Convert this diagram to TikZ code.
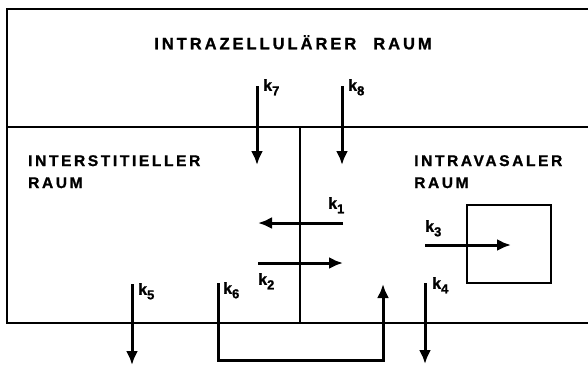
\documentclass[tikz,border=0pt]{standalone}
\usepackage{fontspec}
\setsansfont{Liberation Sans}[BoldFeatures={FakeBold=1.2}]
\newfontfamily\raumfont{Liberation Sans}[BoldFeatures={FakeBold=1.2}, LetterSpace=17]
\newfontfamily\titelfont{Liberation Sans}[BoldFeatures={FakeBold=1.2}, LetterSpace=18]
\usetikzlibrary{arrows.meta,positioning}
\newcommand{\kmark}[1]{k\raisebox{-4.5pt}{\fontsize{13}{13}\selectfont #1}}
\tikzset{
  wall/.style={line width=2.8pt, line join=miter},
  vessel/.style={draw, line width=2.5pt, minimum width=84pt, minimum height=78pt, inner sep=0pt},
  flow/.style={-{Latex[length=14pt,width=12pt]}, line width=3pt, line join=miter},
  raum/.style={font=\raumfont\bfseries\fontsize{15.5}{22}\selectfont, align=left, inner sep=0pt, anchor=north west},
  klabel/.style={font=\sffamily\bfseries\fontsize{16}{16}\selectfont, inner sep=0pt, anchor=north west},
}

\begin{document}
\begin{tikzpicture}[x=1pt,y=-1pt]
  \useasboundingbox (0,0) rectangle (588,365);
  % frame of the three spaces
  \coordinate (tl) at (7,9);   \coordinate (tr) at (592,9);
  \coordinate (ml) at (7,127); \coordinate (mr) at (592,127);
  \coordinate (bl) at (7,323); \coordinate (br) at (592,323);
  \coordinate (dt) at (300,127); \coordinate (db) at (300,323);
  \draw[wall] (tr) -- (tl) -- (bl) -- (br);
  \draw[wall] (ml) -- (mr);
  \draw[wall] (dt) -- (db);
  \node[vessel] (gefaess) at (509,244) {};

  % texts
  \node[raum, font=\titelfont\bfseries\fontsize{16.5}{20}\selectfont, anchor=north] (intra) at (293,35) {INTRAZELLULÄRER\hspace{17pt}RAUM};
  \node[raum] (inter) at (28,155) {INTERSTITIELLER\\RAUM};
  \node[raum] (vasal) at (414,155) {INTRAVASALER\\RAUM};

  % rate constants
  \coordinate (k7s) at (257,86);  \coordinate (k7e) at (257,165);
  \coordinate (k8s) at (342,86);  \coordinate (k8e) at (342,165);
  \coordinate (k1s) at (343,223); \coordinate (k1e) at (258,223);
  \coordinate (k2s) at (258,263); \coordinate (k2e) at (343,263);
  \coordinate (k3s) at (425,245); \coordinate (k3e) at (511,245);
  \coordinate (k4s) at (425,283); \coordinate (k4e) at (425,364);
  \coordinate (k5s) at (132,284); \coordinate (k5e) at (132,365);
  \coordinate (k6s) at (218,283); \coordinate (k6c) at (383,360);
  \coordinate (k6e) at (383,284);
  \draw[flow] (k7s) -- (k7e);
  \draw[flow] (k8s) -- (k8e);
  \draw[flow] (k1s) -- (k1e);
  \draw[flow] (k2s) -- (k2e);
  \draw[flow] (k3s) -- (k3e);
  \draw[flow] (k4s) -- (k4e);
  \draw[flow] (k5s) -- (k5e);
  \draw[flow] (k6s) |- (k6c) -- (k6e);

  \node[klabel] (l7) at (263,79)  {\kmark{7}};
  \node[klabel] (l8) at (348,79)  {\kmark{8}};
  \node[klabel] (l1) at (328,197) {\kmark{1}};
  \node[klabel] (l2) at (258,273) {\kmark{2}};
  \node[klabel] (l3) at (425,220) {\kmark{3}};
  \node[klabel] (l4) at (432,277) {\kmark{4}};
  \node[klabel] (l5) at (138,283) {\kmark{5}};
  \node[klabel] (l6) at (223,282) {\kmark{6}};
\end{tikzpicture}
\end{document}
